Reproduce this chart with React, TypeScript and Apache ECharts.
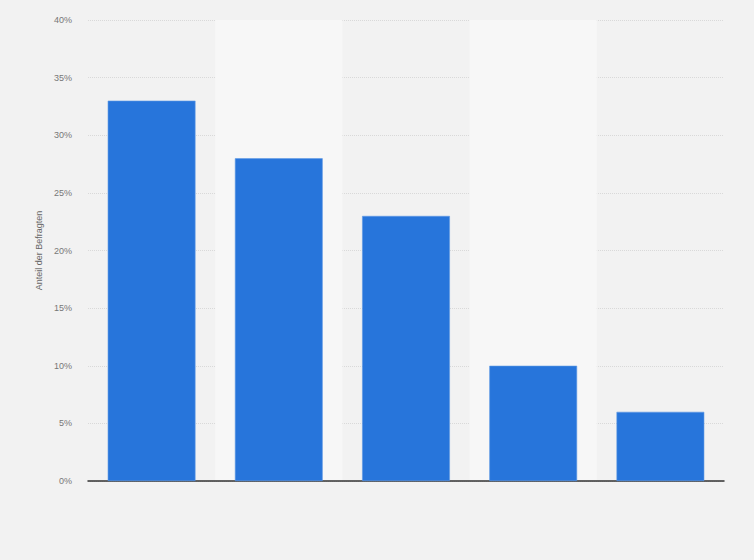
import React, { useEffect, useRef } from 'react';
import * as echarts from 'echarts';

const categories = ['A', 'B', 'C', 'D', 'E'];
const shares = [33, 28, 23, 10, 6];
const yMax = 40;
const yStep = 5;

export default function App() {
  const chartRef = useRef<HTMLDivElement>(null);

  useEffect(() => {
    if (!chartRef.current) return;
    const chart = echarts.init(chartRef.current, null, { renderer: 'svg' });

    chart.setOption({
      animation: false,
      backgroundColor: '#f2f2f2',
      grid: { left: 88, right: 30, top: 20, bottom: 79 },
      xAxis: {
        type: 'category',
        data: categories,
        axisLine: { show: true, lineStyle: { color: '#333', width: 1.5 } },
        axisTick: { show: false },
        axisLabel: { show: false },
        splitArea: { show: true, areaStyle: { color: ['rgba(0,0,0,0)', '#f7f7f7'] } },
      },
      yAxis: {
        type: 'value',
        min: 0,
        max: yMax,
        interval: yStep,
        name: 'Anteil der Befragten',
        nameLocation: 'middle',
        nameGap: 44,
        nameTextStyle: { color: '#666', fontSize: 9, fontFamily: 'Arial, Liberation Sans, sans-serif' },
        axisLine: { show: false },
        axisTick: { show: false },
        axisLabel: {
          formatter: '{value}%',
          color: '#777',
          fontSize: 9,
          margin: 16,
          fontFamily: 'Arial, Liberation Sans, sans-serif',
        },
        splitLine: { lineStyle: { type: 'dotted', color: '#d9d9d9' } },
      },
      series: [
        {
          type: 'bar',
          data: shares,
          barWidth: '69%',
          itemStyle: { color: '#2775db', borderColor: '#5e98e4', borderWidth: 0.6 },
        },
      ],
    });

    return () => chart.dispose();
  }, []);

  return (
    <div
      ref={chartRef}
      style={{ position: 'absolute', left: 0, top: 0, width: 754, height: 560 }}
    />
  );
}
